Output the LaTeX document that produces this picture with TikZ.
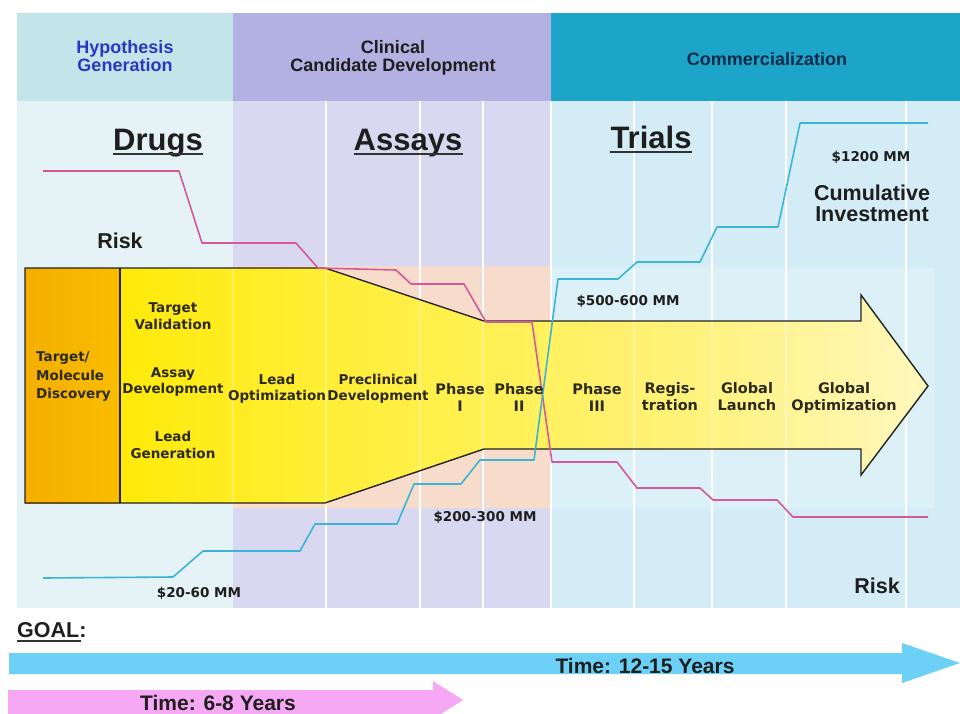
\documentclass[tikz,border=0pt]{standalone}
\usepackage{fontspec}
\setmainfont{Liberation Sans}
\newfontfamily\dvs{DejaVu Sans}
\definecolor{hdrA}{HTML}{C3E4E8}
\definecolor{hdrB}{HTML}{B3B0E2}
\definecolor{hdrC}{HTML}{1CA5C9}
\definecolor{bodyA}{HTML}{E5F3F7}
\definecolor{bodyB}{HTML}{D9D8F1}
\definecolor{bodyC}{HTML}{D4ECF6}
\definecolor{paleC}{HTML}{DCF0F8}
\definecolor{peach}{HTML}{F8DCCB}
\definecolor{riskc}{HTML}{D4589A}
\definecolor{invc}{HTML}{3CB4D6}
\definecolor{hypblue}{HTML}{2E35C0}
\definecolor{commtxt}{HTML}{0E2A4A}
\definecolor{txt}{HTML}{1E1E1E}
\definecolor{lbltxt}{HTML}{2C2A1E}
\definecolor{outl}{HTML}{222222}
\definecolor{bluearrow}{HTML}{6DD0F6}
\definecolor{pinkarrow}{HTML}{F7A8F5}
\definecolor{orA}{HTML}{F4AE00}
\definecolor{orB}{HTML}{FABD00}
\definecolor{yA}{HTML}{FFE600}
\definecolor{yB}{HTML}{FFEA08}
\definecolor{yC}{HTML}{FFEE38}
\definecolor{yD}{HTML}{FFF052}
\definecolor{yE}{HTML}{FFF27C}
\definecolor{yF}{HTML}{FFF8BE}
\pgfdeclarehorizontalshading{funnelshade}{100bp}{color(0bp)=(yA); color(25bp)=(yA); color(30bp)=(yB); color(42bp)=(yC); color(50bp)=(yD); color(62bp)=(yE); color(75bp)=(yF); color(100bp)=(yF)}
\tikzset{
  hdr/.style={font=\fontsize{18}{18}\selectfont\bfseries, align=center, inner sep=0pt},
  big/.style={font=\fontsize{31}{31}\selectfont\bfseries, inner sep=0pt, anchor=base, text=txt},
  lbl/.style={font=\dvs\fontsize{13.5}{16.5}\selectfont\bfseries, align=center, inner sep=0pt, text=lbltxt},
  lblr/.style={lbl, font=\dvs\fontsize{14.5}{17}\selectfont\bfseries},
  money/.style={font=\dvs\fontsize{13.5}{15}\selectfont\bfseries, inner sep=0pt, text=txt},
  note/.style={font=\fontsize{21.5}{21}\selectfont\bfseries, inner sep=0pt, align=center, text=txt},
  timelbl/.style={font=\fontsize{21}{21}\selectfont\bfseries, inner sep=0pt, anchor=base, text=txt},
  sepline/.style={white, line width=2pt},
  riskline/.style={riskc, line width=1.6pt, line join=round},
  invline/.style={invc, line width=1.6pt, line join=round},
  uline/.style={black!80, line width=2.2pt},
}
\begin{document}
\begin{tikzpicture}[x=1pt,y=-1pt]
\useasboundingbox (0,0) rectangle (960,713);
\clip (0,0) rectangle (960,713);
\fill[white] (0,0) rectangle (960,713);
% header bands
\fill[hdrA] (17,13) rectangle (233,101);
\fill[hdrB] (233,13) rectangle (551,101);
\fill[hdrC] (551,13) rectangle (960,101);
% body bands
\fill[bodyA] (17,101) rectangle (233,608);
\fill[bodyB] (233,101) rectangle (551,608);
\fill[bodyC] (551,101) rectangle (960,608);
\fill[peach] (233,266) rectangle (551,508);
\fill[paleC] (551,268) rectangle (935,508);
% separators
\foreach \xx in {326,420,483,551,634,712,786,906}
  \draw[sepline] (\xx,101) -- (\xx,608);
% funnel / arrow
\path[shading=funnelshade] (25,268) -- (325,268) -- (484,321) -- (861,321) -- (861,295) -- (928,386) -- (861,475) -- (861,449) -- (484,449) -- (325,503) -- (25,503) -- cycle;
\shade[left color=orA, right color=orB] (25,268) rectangle (120,503);
\foreach \xx in {233,326,420,483,634,712,786}
  \draw[white, opacity=0.3, line width=2pt] (\xx,268) -- (\xx,503);
\draw[outl, line width=1.4pt, line join=miter] (25,268) -- (325,268) -- (484,321) -- (861,321) -- (861,295) -- (928,386) -- (861,475) -- (861,449) -- (484,449) -- (325,503) -- (25,503) -- cycle;
\draw[outl, line width=1.4pt] (120,268) -- (120,503);
% risk line
\draw[riskline] (43,171) -- (179,171) -- (202,243) -- (296,243) -- (318,268) -- (396,270) -- (411,284) -- (464,284) -- (486,322) -- (532,322) -- (552,462) -- (617,462) -- (637,488) -- (700,488) -- (713,500) -- (777,500) -- (793,517) -- (928,517);
% investment line
\draw[invline] (43,578) -- (173,577) -- (203,551) -- (300,551) -- (315,524) -- (397,524) -- (414,484) -- (461,484) -- (480,460) -- (534,460) -- (558,279) -- (618,279) -- (637,262) -- (700,262) -- (717,227) -- (778,227) -- (800,123) -- (928,123);
% header texts
\node[hdr, text=hypblue] (hyp) at (125,56) {Hypothesis\\Generation};
\node[hdr, text=txt] (clin) at (393,58) {Clinical\\Candidate Development};
\node[hdr, text=commtxt] (comm) at (767,59) {Commercialization};
% big titles
\node[big] (drugs) at (158,150) {Drugs};
\node[big] (assays) at (408,150) {Assays};
\node[big] (trials) at (651,148) {Trials};
\draw[uline] ([yshift=-4pt]drugs.base west) -- ([yshift=-4pt]drugs.base east);
\draw[uline] ([yshift=-4pt]assays.base west) -- ([yshift=-4pt]assays.base east);
\draw[uline] ([yshift=-4pt]trials.base west) -- ([yshift=-4pt]trials.base east);
% notes
\node[note, anchor=base] (riskl) at (120,248) {Risk};
\node[note, anchor=base] (riskr) at (877,593) {Risk};
\node[note] (cumul) at (872,203) {Cumulative\\Investment};
\node[money] (m1200) at (871,157) {\$1200 MM};
\node[money] (m500) at (628,301) {\$500-600 MM};
\node[money] (m200) at (485,517) {\$200-300 MM};
\node[money] (m20) at (199,593) {\$20-60 MM};
% stage labels
\node[lbl, align=left, anchor=west, font=\dvs\fontsize{13.5}{18.5}\selectfont\bfseries] (tmd) at (36,377) {Target/\\Molecule\\Discovery};
\node[lbl] (tval) at (173,316) {Target\\Validation};
\node[lbl] (adev) at (173,382) {Assay\\Development};
\node[lbl] (lgen) at (173,445) {Lead\\Generation};
\node[lbl] (lopt) at (277,389) {Lead\\Optimization};
\node[lbl] (pdev) at (378,389) {Preclinical\\Development};
\node[lblr] (ph1) at (460,397) {Phase\\I};
\node[lblr] (ph2) at (519,397) {Phase\\II};
\node[lblr] (ph3) at (597,397) {Phase\\III};
\node[lblr] (reg) at (670,397) {Regis-\\tration};
\node[lblr] (glaunch) at (747,397) {Global\\Launch};
\node[lblr] (gopt) at (844,398) {Global\\Optimization};
% goal
\node[note, anchor=base west] (goal) at (17,637) {GOAL:};
\draw[uline] (17,641) -- (81,641);
% time arrows
\fill[bluearrow] (9,653) -- (902,653) -- (902,643) -- (960,663) -- (902,683) -- (902,674) -- (9,674) -- cycle;
\fill[pinkarrow] (8,690) -- (433,690) -- (433,681) -- (463,700) -- (433,719) -- (433,716) -- (8,716) -- cycle;
\node[timelbl] (t1215) at (645,673) {Time: 12-15 Years};
\node[timelbl] (t68) at (218,710) {Time: 6-8 Years};
\end{tikzpicture}
\end{document}
